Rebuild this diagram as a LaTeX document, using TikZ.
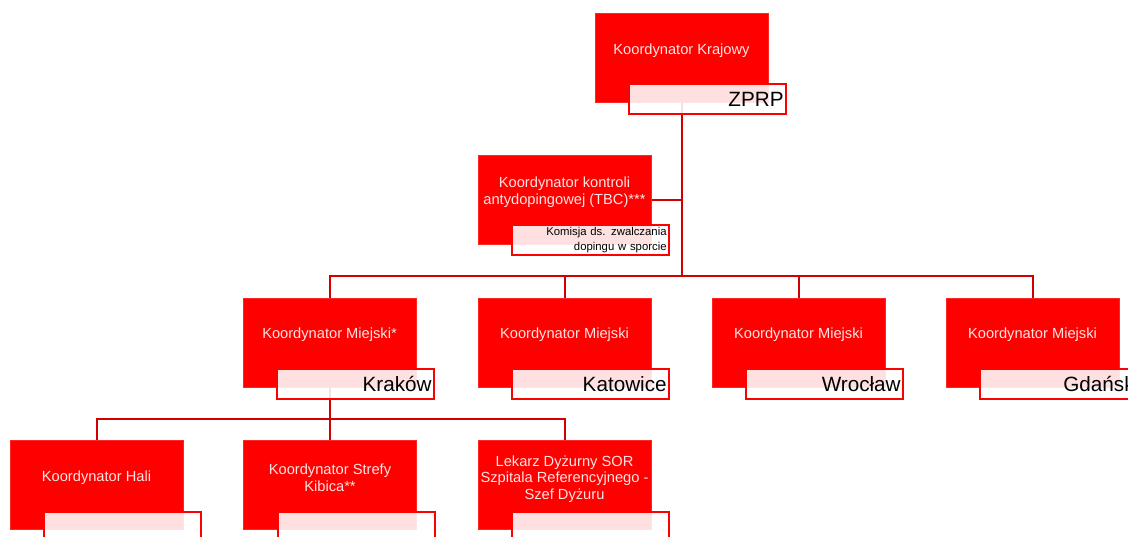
\documentclass[tikz,border=0pt]{standalone}
\usepackage{fontspec}
\setmainfont{Liberation Sans}
\usetikzlibrary{backgrounds}

\definecolor{kred}{RGB}{255,0,0}
\definecolor{kline}{RGB}{208,0,0}
\definecolor{kpale}{RGB}{255,226,226}

\tikzset{
  redbox/.style={rectangle, fill=kred, draw=kred!85!white, line width=0.4pt,
    minimum width=129.75pt, minimum height=66.75pt, inner sep=0pt},
  boxtext/.style={text=kpale, align=center, inner sep=0pt,
    font=\fontsize{11}{12.5}\selectfont},
  tag/.style={rectangle, draw=kred, line width=1.5pt, fill=white, fill opacity=0.88,
    text opacity=1, text=black, minimum height=22.5pt, inner xsep=2pt, inner ysep=0pt,
    text width=113.75pt, align=right, font=\fontsize{15.5}{16}\selectfont},
  smalltag/.style={tag, font=\fontsize{8.5}{11}\selectfont},
  conn/.style={draw=kline, line width=1.5pt}
}

\begin{document}
\begin{tikzpicture}[x=0.75pt, y=-0.75pt]
  \clip (0,0) rectangle (1128,536);
  \useasboundingbox (0,0) rectangle (1128,536);

  % poziom 1: koordynator krajowy
  \node[redbox] (krajowy) at (681.5,57.5) {};
  \node[boxtext] (krajowyT) at ([shift={(0,-7)}]krajowy.center) {Koordynator Krajowy};
  \node[tag, anchor=north east] (krajowyL) at ([shift={(19,-19)}]krajowy.south east) {ZPRP};

  % koordynator antydopingowy
  \node[redbox] (tbc) at (564.5,199.5) {};
  \node[boxtext] (tbcT) at ([shift={(0,-7)}]tbc.center) {Koordynator kontroli\\antydopingowej (TBC)***};
  \node[smalltag, anchor=north east] (tbcL) at ([shift={(19,-20)}]tbc.south east) {Komisja ds. zwalczania\\dopingu w sporcie};

  % poziom 2: miasta
  \node[redbox] (krakow) at (329.5,342.5) {};
  \node[boxtext] (krakowT) at ([shift={(0,-8)}]krakow.center) {Koordynator Miejski*};
  \node[tag, anchor=north east] (krakowL) at ([shift={(19,-19)}]krakow.south east) {Kraków};

  \node[redbox] (katowice) at (564.5,342.5) {};
  \node[boxtext] (katowiceT) at ([shift={(0,-8)}]katowice.center) {Koordynator Miejski};
  \node[tag, anchor=north east] (katowiceL) at ([shift={(19,-19)}]katowice.south east) {Katowice};

  \node[redbox] (wroclaw) at (798.5,342.5) {};
  \node[boxtext] (wroclawT) at ([shift={(0,-8)}]wroclaw.center) {Koordynator Miejski};
  \node[tag, anchor=north east] (wroclawL) at ([shift={(19,-19)}]wroclaw.south east) {Wrocław};

  \node[redbox] (gdansk) at (1032.5,342.5) {};
  \node[boxtext] (gdanskT) at ([shift={(0,-8)}]gdansk.center) {Koordynator Miejski};
  \node[tag, anchor=north east] (gdanskL) at ([shift={(19,-19)}]gdansk.south east) {Gdańsk};

  % poziom 3: Kraków
  \node[redbox] (hali) at (96.5,485) {};
  \node[boxtext] (haliT) at ([shift={(0,-7)}]hali.center) {Koordynator Hali};
  \node[tag, anchor=north east] (haliL) at ([shift={(19,-19)}]hali.south east) {};

  \node[redbox] (strefa) at (330,485) {};
  \node[boxtext] (strefaT) at ([shift={(0,-7)}]strefa.center) {Koordynator Strefy\\Kibica**};
  \node[tag, anchor=north east] (strefaL) at ([shift={(19,-19)}]strefa.south east) {};

  \node[redbox] (lekarz) at (564.5,485) {};
  \node[boxtext] (lekarzT) at ([shift={(0,-6)}]lekarz.center) {Lekarz Dyżurny SOR\\Szpitala Referencyjnego -\\Szef Dyżuru};
  \node[tag, anchor=north east] (lekarzL) at ([shift={(19,-19)}]lekarz.south east) {};

  % linie
  \begin{scope}[on background layer]
    \coordinate (bus1) at (681.5,276);
    \coordinate (bus2) at (329.5,419);
    \draw[conn] (krajowy.south) -- (bus1);
    \draw[conn] (tbc.east) -- (tbc.east -| bus1);
    \draw[conn] (krakow.north) |- (bus1) -| (gdansk.north);
    \draw[conn] (katowice.north) -- (katowice.north |- bus1);
    \draw[conn] (wroclaw.north) -- (wroclaw.north |- bus1);
    \draw[conn] (krakow.south) -- (bus2);
    \draw[conn] (hali.north) |- (bus2) -| (lekarz.north);
    \draw[conn] (strefa.north) -- (strefa.north |- bus2);
  \end{scope}
\end{tikzpicture}
\end{document}
